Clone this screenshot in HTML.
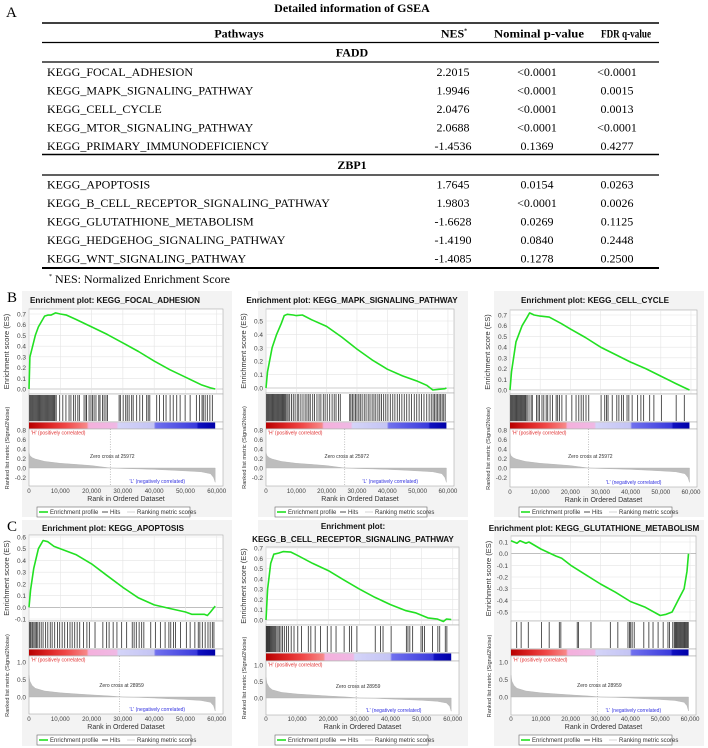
<!DOCTYPE html>
<html><head><meta charset="utf-8"><title>GSEA</title>
<style>
html,body{margin:0;padding:0;background:#fff;}
svg{display:block;}
.serif{font-family:"Liberation Serif",serif;}
.sans{font-family:"Liberation Sans",sans-serif;}
</style></head>
<body>
<svg id="fig" width="708" height="748" viewBox="0 0 708 748" xmlns="http://www.w3.org/2000/svg">
<defs>
<linearGradient id="cbar" x1="0" x2="1" y1="0" y2="0">
<stop offset="0" stop-color="#b80000"/><stop offset="0.12" stop-color="#e02828"/><stop offset="0.2" stop-color="#f04848"/><stop offset="0.31" stop-color="#f78888"/>
<stop offset="0.32" stop-color="#f4b0dc"/><stop offset="0.47" stop-color="#f0b8e4"/><stop offset="0.48" stop-color="#d4d4f8"/><stop offset="0.67" stop-color="#c4c4f4"/>
<stop offset="0.68" stop-color="#7070ee"/><stop offset="0.9" stop-color="#3a3adc"/><stop offset="0.91" stop-color="#1010c0"/><stop offset="1" stop-color="#0000a8"/>
</linearGradient>
</defs>
<g class="serif">
<text x="6" y="17" font-size="15">A</text>
<text x="352" y="12" font-size="12" font-weight="bold" text-anchor="middle">Detailed information of GSEA</text>
<line x1="42" x2="659" y1="23" y2="23" stroke="#000" stroke-width="1.6"/>
<text x="239" y="37.5" font-size="12" font-weight="bold" text-anchor="middle">Pathways</text>
<text x="454" y="37.5" font-size="12" font-weight="bold" text-anchor="middle">NES<tspan font-size="6" dy="-5">*</tspan></text>
<text x="494" y="37.5" font-size="12" font-weight="bold" textLength="90" lengthAdjust="spacingAndGlyphs">Nominal p-value</text>
<text x="601" y="37.5" font-size="12" font-weight="bold" textLength="50" lengthAdjust="spacingAndGlyphs">FDR q-value</text>
<line x1="42" x2="659" y1="42.5" y2="42.5" stroke="#000" stroke-width="1.2"/>
<text x="352" y="56.5" font-size="12" font-weight="bold" text-anchor="middle">FADD</text>
<line x1="42" x2="659" y1="62" y2="62" stroke="#000" stroke-width="1.2"/>
<line x1="42" x2="659" y1="154.5" y2="154.5" stroke="#000" stroke-width="1.4"/>
<text x="352" y="169" font-size="12" font-weight="bold" text-anchor="middle">ZBP1</text>
<line x1="42" x2="659" y1="175" y2="175" stroke="#000" stroke-width="1.2"/>
<line x1="42" x2="659" y1="268" y2="268" stroke="#000" stroke-width="2"/>
<text x="49" y="283" font-size="12"><tspan font-size="6" dy="-5">*</tspan><tspan dy="5"> NES: Normalized Enrichment Score</tspan></text>
<g id="rows"></g>
</g>
<g id="panels" class="sans"></g>
</svg>
<script>
const NS='http://www.w3.org/2000/svg';
// ---------- table data ----------
const rowNames=['KEGG_FOCAL_ADHESION','KEGG_MAPK_SIGNALING_PATHWAY','KEGG_CELL_CYCLE','KEGG_MTOR_SIGNALING_PATHWAY','KEGG_PRIMARY_IMMUNODEFICIENCY','KEGG_APOPTOSIS','KEGG_B_CELL_RECEPTOR_SIGNALING_PATHWAY','KEGG_GLUTATHIONE_METABOLISM','KEGG_HEDGEHOG_SIGNALING_PATHWAY','KEGG_WNT_SIGNALING_PATHWAY'];
const rowNES=['2.2015','1.9946','2.0476','2.0688','-1.4536','1.7645','1.9803','-1.6628','-1.4190','-1.4085'];
const rowP=['<0.0001','<0.0001','<0.0001','<0.0001','0.1369','0.0154','<0.0001','0.0269','0.0840','0.1278'];
const rowQ=['<0.0001','0.0015','0.0013','<0.0001','0.4277','0.0263','0.0026','0.1125','0.2448','0.2500'];

// ---------- chart data (ranks in thousands) ----------
const xTickValues=[0,10,20,30,40,50,60];
const xTickLabels=['0','10,000','20,000','30,000','40,000','50,000','60,000'];
const metricRanks=[0,0.3,1,2,5,10,15,20,26,30,35,40,45,50,55,58,59,59.5];
const metricB=[0.32,0.26,0.22,0.19,0.14,0.1,0.075,0.05,0.0,-0.01,-0.02,-0.03,-0.045,-0.06,-0.08,-0.12,-0.2,-0.3];
const metricC=[0.62,0.45,0.33,0.25,0.17,0.12,0.09,0.06,0.03,0.0,-0.01,-0.03,-0.05,-0.07,-0.1,-0.15,-0.25,-0.4];
const zeroCrossB=25.972, zeroCrossC=28.959;

const p1Ranks=[0,0.3,1,2,3,4,5,6,7,8.5,10,12,15,20,25,30,35,40,45,50,55,58,59.5];
const p1ES=[0,0.3,0.38,0.5,0.58,0.63,0.68,0.69,0.69,0.71,0.7,0.69,0.65,0.58,0.51,0.43,0.35,0.26,0.18,0.11,0.04,0.01,0];
const p1Hits=[0.2,0.5,0.8,1.1,1.4,1.7,2,2.3,2.6,2.9,3.2,3.5,3.8,4.1,4.4,4.7,5,5.3,5.6,5.9,6.2,6.5,6.8,7.1,7.4,7.7,8,8.3,8.7,9.8,10.8,11.8,12.8,13.4,14.2,14.8,15.6,16.1,17.6,18.2,18.4,19.2,19.8,20.3,20.8,21.4,22.3,22.7,23.5,24,24.6,25.1,28.8,29.2,30.1,30.9,31.4,32,32.8,33.3,34.4,35.4,36.3,37.6,38.1,38.6,40.8,41.7,43,43.8,45.1,46.1,47.2,48.3,49.9,51.5,53.5,54.5,55.3,55.7,56.3,57,57.8,58.6];
const p1Ticks=[0,0.1,0.2,0.3,0.4,0.5,0.6,0.7];

const p2Ranks=[0,0.5,2,3.5,5,6,7,9,10,12,15,20,25,30,35,40,45,50,53,55,57,59,59.5];
const p2ES=[0,0.12,0.3,0.4,0.48,0.54,0.55,0.545,0.54,0.545,0.51,0.46,0.38,0.29,0.21,0.14,0.09,0.05,0.02,-0.015,-0.01,-0.005,0];
const p2Hits=[0.2,0.5,0.8,1.1,1.4,1.7,2,2.3,2.6,2.9,3.2,3.5,3.8,4.1,4.4,4.7,5,5.3,5.6,5.9,6.2,6.5,6.9,7.3,7.8,8.4,9,9.6,10.3,10.8,11.5,12.2,12.9,13.5,14.1,14.6,15.4,16,16.8,17.5,18.1,18.9,19.5,20.2,21,21.8,22.5,23.1,23.9,24.5,27.6,28,28.5,29,29.5,30,30.6,31.1,31.7,32.4,33,33.7,34.3,35,35.6,36.2,36.9,37.5,38.1,38.8,39.5,40.2,41,41.8,42.5,43.3,44,44.8,45.6,46.4,47.2,48,48.9,49.7,50.5,51.3,52.1,53,53.8,54.5,55.1,55.6,56.1,56.6,57.1,57.6,58.1,58.6,59.1];
const p2Ticks=[0,0.1,0.2,0.3,0.4,0.5];

const p3Ranks=[0,0.5,2,4,5.5,6.5,8,10,13,17,20,25,30,35,40,45,50,55,58,59.5];
const p3ES=[0,0.17,0.45,0.6,0.67,0.72,0.7,0.69,0.68,0.62,0.57,0.49,0.4,0.33,0.26,0.2,0.13,0.06,0.02,0];
const p3Hits=[0.2,0.5,0.8,1.1,1.4,1.7,2,2.3,2.6,2.9,3.2,3.5,3.8,4.1,4.4,4.7,5,5.3,5.7,6.3,7,7.4,8.8,9.3,9.8,10.6,11.2,12,12.5,13.3,14.1,15.3,15.8,16.4,17.2,18.6,20.5,21.9,22.8,23.6,24.3,25.2,26.1,30.2,31.4,32,32.5,33.9,35.4,36.1,37,37.6,38.8,39.4,40.5,42.3,43.4,44.3,46.3,47.7,50.2,55.1,57.8];
const p3Ticks=[0,0.1,0.2,0.3,0.4,0.5,0.6,0.7];

const p4Ranks=[0,0.5,1.5,3,4.5,6,8,10,15,20,25,30,35,40,45,50,52,54,56,57,58,59.5];
const p4ES=[0,0.15,0.33,0.5,0.57,0.56,0.52,0.5,0.45,0.37,0.27,0.17,0.08,0.02,-0.01,-0.04,-0.06,-0.06,-0.06,-0.07,-0.04,0.01];
const p4Hits=[0.2,0.5,0.9,1.2,1.6,2,2.4,2.8,3.3,3.9,4.5,5.3,6,6.8,7.4,8.2,9.1,9.8,10.6,11.4,12.3,13.1,13.8,14.6,15.4,16.2,17.4,18.5,19.3,21.1,23.6,24.8,25.6,26.9,28.1,29.6,31.2,33,33.6,34.3,35.2,36,36.7,38.9,40.4,42,43.5,44.7,45.3,46.2,46.8,48.4,50.3,51.5,53,54.1,54.6,55.4,56.3,57.2,57.9,58.6,59.1];
const p4Ticks=[-0.1,0,0.1,0.2,0.3,0.4,0.5,0.6];

const p5Ranks=[0,0.5,1,1.5,2.5,4,5.5,8,10,15,20,25,30,35,40,45,48,52,55,57,58,59.5];
const p5ES=[0,0.3,0.42,0.55,0.64,0.65,0.665,0.66,0.63,0.55,0.48,0.39,0.3,0.22,0.15,0.09,0.07,0.02,0.01,-0.015,0.01,0.005];
const p5Hits=[0.1,0.3,0.5,0.7,0.9,1.1,1.3,1.6,1.9,2.2,2.5,2.8,3.1,3.5,3.9,4.3,4.8,5.3,5.9,6.6,7.2,8.1,9,10.2,11.4,13.6,14.4,15.8,17.5,19.7,20.9,22.5,25.1,26.8,27.5,29.2,35.1,36.8,37.6,40.2,45.1,45.6,46.2,47.1,49.8,50.3,50.9,53.5,55.2,55.8,57.6,58.1];
const p5Ticks=[0,0.1,0.2,0.3,0.4,0.5,0.6,0.7];

const p6Ranks=[0,2,3,5,6,10,15,17,20,25,30,35,40,45,50,52,54,56,58,59,59.5];
const p6ES=[0.11,0.09,0.11,0.09,0.1,0.04,-0.02,-0.04,-0.1,-0.18,-0.26,-0.33,-0.41,-0.46,-0.53,-0.52,-0.5,-0.4,-0.3,-0.15,0];
const p6Hits=[1.9,3.4,5.8,10.2,12.8,16.2,16.7,22.2,22.6,26.8,33.3,35.8,39.2,39.7,40.1,40.6,41.3,44.5,46.2,47.6,49.3,51,52.6,53.1,54.2,54.7,55,55.3,55.6,55.9,56.2,56.5,56.8,57.1,57.4,57.7,58,58.3,58.6,58.9,59.2,59.4];
const p6Ticks=[-0.5,-0.4,-0.3,-0.2,-0.1,0,0.1];

const metricTicksB=[-0.2,0,0.2,0.4,0.6,0.8];
const metricTicksC=[0,0.5,1.0];

// ---------- geometry ----------
const panels=[
 {id:'focal-adhesion',title:['Enrichment plot: KEGG_FOCAL_ADHESION'],tx:115,ty:[303],px:[0,236],py:[290,519],x0:29,x1:223,esTop:309,esBot:394,esA:[0.7,314],esB:[0,389],hitBot:422,cbBot:429,metBot:486,mA:[0.8,430],mB:[0,468],xly:493,legX:[37,190],legY:507,
  ranks:p1Ranks,es:p1ES,hits:p1Hits,ticks:p1Ticks,met:metricB,mt:metricTicksB,zc:zeroCrossB},
 {id:'mapk',title:['Enrichment plot: KEGG_MAPK_SIGNALING_PATHWAY'],tx:352,ty:[303],px:[236,472],py:[290,519],x0:266,x1:454,esTop:309,esBot:393,esA:[0.5,321],esB:[0,388],hitBot:422,cbBot:429,metBot:486,mA:[0.8,430],mB:[0,468],xly:493,legX:[275,427],legY:507,
  ranks:p2Ranks,es:p2ES,hits:p2Hits,ticks:p2Ticks,met:metricB,mt:metricTicksB,zc:zeroCrossB},
 {id:'cell-cycle',title:['Enrichment plot: KEGG_CELL_CYCLE'],tx:595,ty:[303],px:[472,708],py:[290,519],x0:510,x1:697,esTop:310,esBot:394,esA:[0.7,315],esB:[0,390],hitBot:422,cbBot:429,metBot:487,mA:[0.8,430],mB:[0,468],xly:494,legX:[519,672],legY:507,
  ranks:p3Ranks,es:p3ES,hits:p3Hits,ticks:p3Ticks,met:metricB,mt:metricTicksB,zc:zeroCrossB},
 {id:'apoptosis',title:['Enrichment plot: KEGG_APOPTOSIS'],tx:113,ty:[531],px:[0,236],py:[519,748],x0:29,x1:223,esTop:535,esBot:621,esA:[0.6,537],esB:[-0.1,619],hitBot:649,cbBot:656,metBot:714,mA:[1.0,662],mB:[0,697],xly:721,legX:[37,191],legY:735,
  ranks:p4Ranks,es:p4ES,hits:p4Hits,ticks:p4Ticks,met:metricC,mt:metricTicksC,zc:zeroCrossC},
 {id:'b-cell-receptor',title:['Enrichment plot:','KEGG_B_CELL_RECEPTOR_SIGNALING_PATHWAY'],tx:353,ty:[529,542],px:[236,472],py:[519,748],x0:266,x1:459,esTop:547,esBot:625,esA:[0.7,548],esB:[0,620],hitBot:653,cbBot:661,metBot:715,mA:[1.0,665],mB:[0,698],xly:721,legX:[275,428],legY:735,
  ranks:p5Ranks,es:p5ES,hits:p5Hits,ticks:p5Ticks,met:metricC,mt:metricTicksC,zc:zeroCrossC},
 {id:'glutathione',title:['Enrichment plot: KEGG_GLUTATHIONE_METABOLISM'],tx:594,ty:[531],px:[472,708],py:[519,748],x0:511,x1:696,esTop:536,esBot:621,esA:[0.1,542],esB:[-0.5,612],hitBot:649,cbBot:656,metBot:715,mA:[1.0,662],mB:[0,697],xly:721,legX:[519,672],legY:735,
  ranks:p6Ranks,es:p6ES,hits:p6Hits,ticks:p6Ticks,met:metricC,mt:metricTicksC,zc:zeroCrossC}
];

function add(parent,tag,attrs,name){
  const el=document.createElementNS(NS,tag);
  for(const k in attrs) el.setAttribute(k,attrs[k]);
  
  
  parent.appendChild(el);
  return el;
}
function txt(parent,x,y,s,attrs,name){const t=add(parent,'text',Object.assign({x:x,y:y},attrs),name);t.textContent=s;return t;}

// table rows
const rows=document.getElementById('rows');
const rowY=[72,90.5,109,127.5,146,184.5,203,221.5,240,258.5];
rowNames.forEach((n,i)=>{
  const y=rowY[i]+4;
  txt(rows,47,y,n,{'font-size':12},'row-name');
  txt(rows,453,y,rowNES[i],{'font-size':12,'text-anchor':'middle'},'row-nes');
  txt(rows,537,y,rowP[i],{'font-size':12,'text-anchor':'middle'},'row-p-value');
  txt(rows,617,y,rowQ[i],{'font-size':12,'text-anchor':'middle'},'row-fdr-q');
});

const root=document.getElementById('panels');
txt(root,7,302,'B',{'font-size':15,'font-family':'Liberation Serif, serif'},'panel-label-b');
txt(root,7,531,'C',{'font-size':15,'font-family':'Liberation Serif, serif'},'panel-label-c');

panels.forEach(p=>{
  const g=add(root,'g',{},'enrichment-plot-'+p.id);
  add(g,'rect',{x:p.px[0]+22,y:p.py[0]+1,width:p.px[1]-p.px[0]-26,height:p.py[1]-p.py[0]-3,fill:'#f3f3f3'},'panel-background');
  const XMAX=62;
  const xs=r=>p.x0+(p.x1-p.x0)*r/XMAX;
  const ye=v=>p.esB[1]+(v-p.esB[0])*(p.esA[1]-p.esB[1])/(p.esA[0]-p.esB[0]);
  const ym=v=>p.mB[1]+(v-p.mB[0])*(p.mA[1]-p.mB[1])/(p.mA[0]-p.mB[0]);
  p.title.forEach((t,i)=>txt(g,p.tx,p.ty[i],t,{'font-size':8.1,'font-weight':'bold','text-anchor':'middle',fill:'#111'},'plot-title'));
  add(g,'rect',{x:p.x0,y:p.esTop,width:p.x1-p.x0,height:p.esBot-p.esTop,fill:'#fff',stroke:'#aaa','stroke-width':0.6},'es-plot-area');
  p.ticks.forEach(v=>{
    add(g,'line',{x1:p.x0,x2:p.x1,y1:ye(v),y2:ye(v),stroke:v===0?'#999':'#e4e4e4','stroke-width':0.6},'es-gridline');
    txt(g,p.x0-3,ye(v)+2.5,v.toFixed(1),{'font-size':6.5,'text-anchor':'end',fill:'#444'},'es-tick-label');
  });
  xTickValues.forEach(v=>add(g,'line',{x1:xs(v),x2:xs(v),y1:p.esTop,y2:p.esBot,stroke:'#e4e4e4','stroke-width':0.6},'es-vgridline'));
  const pts=p.ranks.map((r,i)=>xs(r).toFixed(1)+','+ye(p.es[i]).toFixed(1)).join(' ');
  add(g,'polyline',{points:pts,fill:'none',stroke:'#22e022','stroke-width':1.6,'stroke-linejoin':'round'},'enrichment-profile-line');
  const esm=(p.esTop+p.esBot)/2;
  txt(g,0,0,'Enrichment score (ES)',{'font-size':7.5,'text-anchor':'middle',fill:'#333',transform:`translate(${p.x0-20},${esm}) rotate(-90)`},'es-axis-title');
  add(g,'rect',{x:p.x0,y:p.esBot,width:p.x1-p.x0,height:p.hitBot-p.esBot,fill:'#fff',stroke:'#aaa','stroke-width':0.6},'hits-area');
  p.hits.forEach(h=>add(g,'line',{x1:xs(h),x2:xs(h),y1:p.esBot+1,y2:p.hitBot-1,stroke:'#222','stroke-width':0.9,'stroke-opacity':0.85},'hit-line'));
  add(g,'rect',{x:p.x0,y:p.hitBot,width:p.x1-p.x0,height:p.cbBot-p.hitBot,fill:'#fff',stroke:'#aaa','stroke-width':0.6},'colorbar-frame');
  add(g,'rect',{x:p.x0,y:p.hitBot+0.5,width:xs(59.5)-p.x0,height:p.cbBot-p.hitBot-1,fill:'url(#cbar)'},'rank-colorbar');
  add(g,'rect',{x:p.x0,y:p.cbBot,width:p.x1-p.x0,height:p.metBot-p.cbBot,fill:'#fff',stroke:'#aaa','stroke-width':0.6},'metric-plot-area');
  let mp=xs(0).toFixed(1)+','+ym(0).toFixed(1)+' ';
  mp+=metricRanks.map((r,i)=>xs(r).toFixed(1)+','+ym(p.met[i]).toFixed(1)).join(' ');
  mp+=' '+xs(59.5).toFixed(1)+','+ym(0).toFixed(1);
  add(g,'polygon',{points:mp,fill:'#bdbdbd',stroke:'#b0b0b0','stroke-width':0.4},'ranking-metric-area');
  p.mt.forEach(v=>txt(g,p.x0-3,ym(v)+2.5,v.toFixed(1),{'font-size':6.5,'text-anchor':'end',fill:'#444'},'metric-tick-label'));
  add(g,'line',{x1:xs(p.zc),x2:xs(p.zc),y1:p.cbBot,y2:p.metBot,stroke:'#999','stroke-width':0.6,'stroke-dasharray':'1,1.5'},'zero-cross-line');
  txt(g,xs(p.zc)+2,ym(0)-10,'Zero cross at '+Math.round(p.zc*1000),{'font-size':5,'text-anchor':'middle',fill:'#333'},'zero-cross-label');
  txt(g,p.x0+2,p.cbBot+5.5,"'H' (positively correlated)",{'font-size':5,fill:'#e03030'},'positive-label');
  txt(g,xs(41),p.metBot-3,"'L' (negatively correlated)",{'font-size':5,fill:'#3030e0','text-anchor':'middle'},'negative-label');
  txt(g,0,0,'Ranked list metric (Signal2Noise)',{'font-size':5.6,'text-anchor':'middle',fill:'#333',transform:`translate(${p.x0-20},${(p.esBot+p.metBot)/2+8}) rotate(-90)`},'metric-axis-title');
  xTickValues.forEach((v,i)=>txt(g,xs(v),p.xly,xTickLabels[i],{'font-size':6.2,'text-anchor':'middle',fill:'#444'},'x-tick-label'));
  txt(g,(p.x0+p.x1)/2,p.xly+8,'Rank in Ordered Dataset',{'font-size':7,'text-anchor':'middle',fill:'#333'},'x-axis-title');
  const lg=add(g,'g',{},'legend');
  add(lg,'rect',{x:p.legX[0],y:p.legY,width:p.legX[1]-p.legX[0],height:10,fill:'#fff',stroke:'#666','stroke-width':0.6},'legend-box');
  const lx=p.legX[0], ly=p.legY+5;
  add(lg,'line',{x1:lx+2,x2:lx+11,y1:ly,y2:ly,stroke:'#22e022','stroke-width':1.6},'legend-swatch-profile');
  txt(lg,lx+13,ly+2.2,'Enrichment profile',{'font-size':6,fill:'#333'},'legend-entry-profile');
  add(lg,'line',{x1:lx+65,x2:lx+71,y1:ly,y2:ly,stroke:'#222','stroke-width':0.8},'legend-swatch-hits');
  txt(lg,lx+73,ly+2.2,'Hits',{'font-size':6,fill:'#333'},'legend-entry-hits');
  add(lg,'line',{x1:lx+90,x2:lx+98,y1:ly,y2:ly,stroke:'#ccc','stroke-width':0.8},'legend-swatch-metric');
  txt(lg,lx+100,ly+2.2,'Ranking metric scores',{'font-size':6,fill:'#333'},'legend-entry-metric');
});
</script>
</body></html>
